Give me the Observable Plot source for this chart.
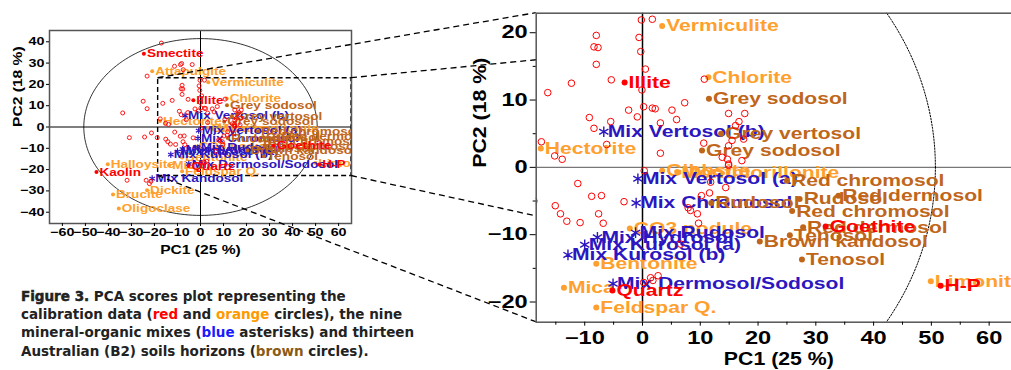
<!DOCTYPE html>
<html><head><meta charset="utf-8">
<script src="https://cdn.jsdelivr.net/npm/d3@7"></script>
<script src="https://cdn.jsdelivr.net/npm/@observablehq/plot@0.6"></script>
<style>
html,body{margin:0;padding:0;background:#fff;overflow:hidden;width:1011px;height:370px}
#wrap{position:relative;width:1011px;height:370px;overflow:hidden}
#left{position:absolute;left:0;top:0;width:360px}
#conn{position:absolute;left:0;top:0}
#big{position:absolute;left:440px;top:0;width:581px}
#wrap svg{max-width:none !important}
#caption{position:absolute;left:21px;top:287px;font-family:"DejaVu Sans",sans-serif;font-weight:bold;font-size:13.5px;line-height:18.2px;color:#222;white-space:nowrap}
#caption .fig{-webkit-text-stroke:0.5px #222;color:#222}
</style></head>
<body>
<div id="wrap">
  <div id="left"></div>
  <svg id="conn" width="1011" height="370"></svg>
  <div id="big"></div>
  <div id="caption"><span class="fig">Figure 3.</span> PCA scores plot representing the<br>calibration data (<span style="color:#ff0000">red</span> and <span style="color:#ff9900">orange</span> circles), the nine<br>mineral-organic mixes (<span style="color:#1a1aff">blue</span> asterisks) and thirteen<br>Australian (B2) soils horizons (<span style="color:#8a5a14">brown</span> circles).</div>
</div>
<script>
// ---------- data ----------
const fullX = [-65.6, 65.6], fullY = [-45.3, 45.3];
const zoomX = [-18.4, 65.6], zoomY = [-23.0, 22.9];
const ellipseRadii = [50.7, 41.5];

const redNames = ["Illite", "Quartz", "Goethite", "H-P", "Smectite", "Kaolin"];
const redX = [-3.1, -5.2, 31.7, 51.6, -24.6, -45.2];
const redY = [12.6, -18.3, -8.8, -17.6, 34.4, -21.1];

const orangeNames = ["Vermiculite", "Chlorite", "Hectorite", "Gibbsite", "Montmorillonite", "CO3 nodule", "Bentonite", "Mica", "Feldspar Q.", "Limonite", "Attapulgite", "Halloysite", "Dickite", "Brucite", "Oligoclase"];
const orangeX = [3.4, 11.4, -17.6, 3.4, 6.0, -2.2, -8.0, -13.6, -8.0, 49.9, -21.0, -40.3, -23.2, -38.0, -35.5];
const orangeY = [21.0, 13.4, 2.8, -0.5, -0.7, -9.1, -14.3, -17.9, -20.8, -16.9, 26.2, -17.5, -29.7, -31.7, -38.3];

const blueNames = ["Mix Vertosol (b)", "Mix Vertosol (a)", "Mix Chromosol", "Mix Rudosol", "Mix Hydrosol", "Mix Kurosol (a)", "Mix Kurosol (b)", "Mix Dermosol/Sodosol", "Mix Kandosol"];
const blueX = [-6.7, -0.8, -1.1, -1.2, -7.8, -10.0, -12.9, -5.1, -21.0];
const blueY = [5.3, -1.7, -5.3, -9.7, -10.4, -11.5, -13.0, -17.3, -24.2];

const brownNames = ["Grey sodosol", "Grey vertosol", "Grey sodosol", "Red chromosol", "Rudosol", "Red dermosol", "Red chromosol", "Red dermosol", "Tenosol", "Brown kandosol", "Tenosol", "Rudosol"];
const brownX = [11.5, 13.6, 10.3, 25.0, 27.2, 33.9, 25.9, 27.8, 25.5, 20.3, 27.6, 11.9];
const brownY = [10.2, 5.0, 2.5, -2.0, -4.7, -4.2, -6.5, -8.9, -10.1, -11.0, -13.7, -5.3];

const openX = [-0.2, 1.7, -8.0, -8.4, -7.7, -8.0, -0.6, -0.3, 0.5, -5.4, -12.3, -16.4, -0.1, -2.4, -0.9, 0.2, 1.7, 2.2, 5.1, 7.3, -9.2, -8.4, -5.5, -6.2, -17.5, -15.2, -13.9, 3.1, 3.1, 5.9, 10.7, 10.6, 14.9, 17.7, 16.7, 16.1, 15.5, 14.9, 13.8, 14.7, 14.9, 17.2, 17.5, 11.8, 14.4, -11.2, 0.3, -8.8, -7.1, -3.2, -15.1, -14.2, -13.1, -10.8, -7.6, -6.8, 10.2, 11.6, 7.9, 9.5, 9.7, 8.3, 1.4, 2.7, 0.2, 1.8, 6.6, 14.9,
  -17.0, -8.7, -8.2, -3.6, -11.3, -23.2, -7.5, -24.9, -23.2, -33.8, -30.9, -24.3, -21.3, -18.8, -31.9, -23.6, -22.2, -21.5];
const openY = [21.9, 22.0, 19.6, 17.9, 17.8, 15.3, 19.3, 17.2, 14.6, 13.0, 12.5, 11.1, 11.5, 8.5, 7.5, 9.0, 8.8, 8.7, 8.5, 9.6, 7.4, 5.8, 6.8, 3.4, 3.8, 1.7, 1.2, 2.1, 6.6, 7.1, 13.1, 3.6, 8.0, 8.0, 6.8, 6.2, 4.0, 3.2, 1.5, 1.2, 0.5, 1.0, 4.2, -2.2, -3.0, -2.4, -0.5, -4.3, -4.2, -5.1, -5.7, -6.9, -8.0, -8.2, -6.9, -8.3, -4.2, -3.8, -6.0, -6.9, -8.3, -6.4, -16.4, -16.1, -17.1, -16.8, -11.4, 0.3,
  39.4, 29.3, 29.8, 29.3, 28.5, 23.9, 26.9, 12.1, 8.6, 6.6, -5.0, -4.7, -2.8, -5.0, -25.0, -25.0, -26.6, -25.5];

const xTicksLeft = [-60, -50, -40, -30, -20, -10, 0, 10, 20, 30, 40, 50, 60];
const yTicksLeft = [-40, -30, -20, -10, 0, 10, 20, 30, 40];
const xTicksBig = [-10, 0, 10, 20, 30, 40, 50, 60];
const yTicksBig = [-20, -10, 0, 10, 20];
const xMinorBig = [-15, -5, 5, 15, 25, 35, 45, 55, 65];
const yMinorBig = [-15, -5, 5, 15];
const xLabel = "PC1 (25 %)", yLabel = "PC2 (18 %)";

// ---------- helpers ----------
const RED = "#ff0000", ORANGE = "#ff9f2e", BLUE = "#2b16c0", BROWN = "#c0661a";
const rows = (names, xs, ys) => names.map((n, i) => ({name: n, x: xs[i], y: ys[i]}));
const reds = rows(redNames, redX, redY);
const oranges = rows(orangeNames, orangeX, orangeY);
const blues = rows(blueNames, blueX, blueY);
const browns = rows(brownNames, brownX, brownY);
const opens = openX.map((x, i) => ({x, y: openY[i]}));
const ellipse = d3.range(0, 181).map(i => {
  const t = i / 180 * 2 * Math.PI;
  return {x: ellipseRadii[0] * Math.cos(t), y: ellipseRadii[1] * Math.sin(t)};
});
const FONT = "'Liberation Sans', Arial, sans-serif";

// widen glyphs (the reference text is horizontally stretched) without moving anchors
function stretchText(svg, factors) {
  svg.querySelectorAll("text").forEach(t => {
    const g = t.closest("[font-size]");
    const fs = g ? String(+g.getAttribute("font-size")) : null;
    const s = factors[fs];
    if (!s || !t.textContent) return;
    const len = t.getComputedTextLength();
    if (len > 0) {
      t.setAttribute("textLength", (len * s).toFixed(2));
      t.setAttribute("lengthAdjust", "spacingAndGlyphs");
    }
  });
}

function labelled(data, color, r, fs, dx) {
  return [
    Plot.dot(data, {x: "x", y: "y", r, fill: color, stroke: null, clip: true}),
    Plot.text(data, {x: "x", y: "y", text: "name", dx, textAnchor: "start", lineAnchor: "middle", fill: color, fontSize: fs, fontWeight: "bold", clip: true})
  ];
}
function starred(data, color, r, sw, fs, dx) {
  return [
    Plot.dot(data, {x: "x", y: "y", r, symbol: "asterisk", stroke: color, strokeWidth: sw, clip: true}),
    Plot.text(data, {x: "x", y: "y", text: "name", dx, textAnchor: "start", lineAnchor: "middle", fill: color, fontSize: fs, fontWeight: "bold", clip: true})
  ];
}

// ---------- left (full) plot ----------
const left = Plot.plot({
  width: 360, height: 260,
  marginLeft: 49, marginRight: 9, marginTop: 30, marginBottom: 37,
  x: {domain: fullX}, y: {domain: fullY},
  style: `background: transparent; font-family: ${FONT}; color: #000; max-width: none;`,
  marks: [
    Plot.frame({fill: "white", stroke: null}),
    Plot.ruleX([0], {stroke: "#000", strokeWidth: 1}),
    Plot.ruleY([0], {stroke: "#000", strokeWidth: 1}),
    Plot.line(ellipse, {x: "x", y: "y", stroke: "#000", strokeWidth: 0.8, clip: true}),
    Plot.rect([{x1: zoomX[0], x2: zoomX[1], y1: zoomY[0], y2: zoomY[1]}], {x1: "x1", x2: "x2", y1: "y1", y2: "y2", fill: "none", stroke: "#000", strokeWidth: 1.4, strokeDasharray: "5,3"}),
    ...labelled(oranges, ORANGE, 2, 11.5, 3),
    ...starred(blues, BLUE, 3, 1.2, 11.5, 3),
    ...labelled(browns, BROWN, 2, 11.5, 3),
    Plot.dot(opens, {x: "x", y: "y", r: 2, stroke: RED, strokeWidth: 0.9, fill: "none", clip: true}),
    ...labelled(reds, RED, 2, 11.5, 3),
    Plot.frame({stroke: "#555", strokeWidth: 1.5}),
    Plot.axisX({ticks: xTicksLeft, tickSize: 3, tickPadding: 2, fontSize: 11, fontWeight: "bold", label: null}),
    Plot.axisY({ticks: yTicksLeft, tickSize: 3, tickPadding: 2, fontSize: 11, fontWeight: "bold", label: null}),
    Plot.text([xLabel], {text: d => d, frameAnchor: "bottom", dy: 27, lineAnchor: "middle", fontSize: 12, fontWeight: "bold"}),
    Plot.text([yLabel], {text: d => d, frameAnchor: "left", dx: -31, rotate: -90, lineAnchor: "middle", fontSize: 12, fontWeight: "bold"})
  ]
});
document.getElementById("left").append(left);
stretchText(left, {"11": 1.3, "11.5": 1.18, "12": 1.3});

// ---------- big (zoomed) plot ----------
const big = Plot.plot({
  width: 581, height: 370,
  marginLeft: 95.7, marginRight: 0, marginTop: 12.7, marginBottom: 48.3,
  x: {domain: zoomX}, y: {domain: zoomY},
  style: `background: transparent; font-family: ${FONT}; color: #000; max-width: none;`,
  marks: [
    Plot.frame({fill: "white", stroke: null}),
    Plot.ruleY([0], {stroke: "#777", strokeWidth: 1.3}),
    Plot.ruleX([0], {stroke: "#000", strokeWidth: 1.5}),
    Plot.line(ellipse, {x: "x", y: "y", stroke: "#000", strokeWidth: 1, strokeDasharray: "1.5,1.5", clip: true}),
    ...labelled(oranges, ORANGE, 3, 17, 4),
    ...starred(blues, BLUE, 5, 1.4, 17, 4),
    ...labelled(browns, BROWN, 3, 17, 4),
    Plot.dot(opens, {x: "x", y: "y", r: 3.3, stroke: RED, strokeWidth: 1, fill: "none", clip: true}),
    ...labelled(reds, RED, 3, 17, 4),
    Plot.frame({stroke: "#555", strokeWidth: 1.5}),
    Plot.axisX({ticks: xTicksBig, tickSize: 4, tickPadding: 5, fontSize: 17.5, fontWeight: "bold", label: null}),
    Plot.axisX({ticks: xMinorBig, tickSize: 3, tickFormat: () => "", fontSize: 17.5, label: null}),
    Plot.axisY({ticks: yTicksBig, tickSize: 6, tickPadding: 2.5, fontSize: 17.5, fontWeight: "bold", label: null}),
    Plot.axisY({ticks: yMinorBig, tickSize: 3, tickFormat: () => "", fontSize: 17.5, label: null}),
    Plot.text([xLabel], {text: d => d, frameAnchor: "bottom", dy: 37, lineAnchor: "middle", fontSize: 18.5, fontWeight: "bold"}),
    Plot.text([yLabel], {text: d => d, frameAnchor: "left", dx: -56, rotate: -90, lineAnchor: "middle", fontSize: 18.5, fontWeight: "bold"})
  ]
});
document.getElementById("big").append(big);
stretchText(big, {"17.5": 1.35, "17": 1.24, "18.5": 1.15});

// ---------- dashed connectors (from scales) ----------
const BIG_LEFT = 440;
const lx = left.scale("x"), ly = left.scale("y"), bx = big.scale("x"), by = big.scale("y");
const corners = [[zoomX[0], zoomY[1]], [zoomX[1], zoomY[1]], [zoomX[0], zoomY[0]], [zoomX[1], zoomY[0]]];
d3.select("#conn").selectAll("line").data(corners).join("line")
  .attr("x1", d => lx.apply(d[0])).attr("y1", d => ly.apply(d[1]))
  .attr("x2", d => BIG_LEFT + bx.apply(d[0])).attr("y2", d => by.apply(d[1]))
  .attr("stroke", "#000").attr("stroke-width", 1.3).attr("stroke-dasharray", "6,4");
</script>
</body></html>
